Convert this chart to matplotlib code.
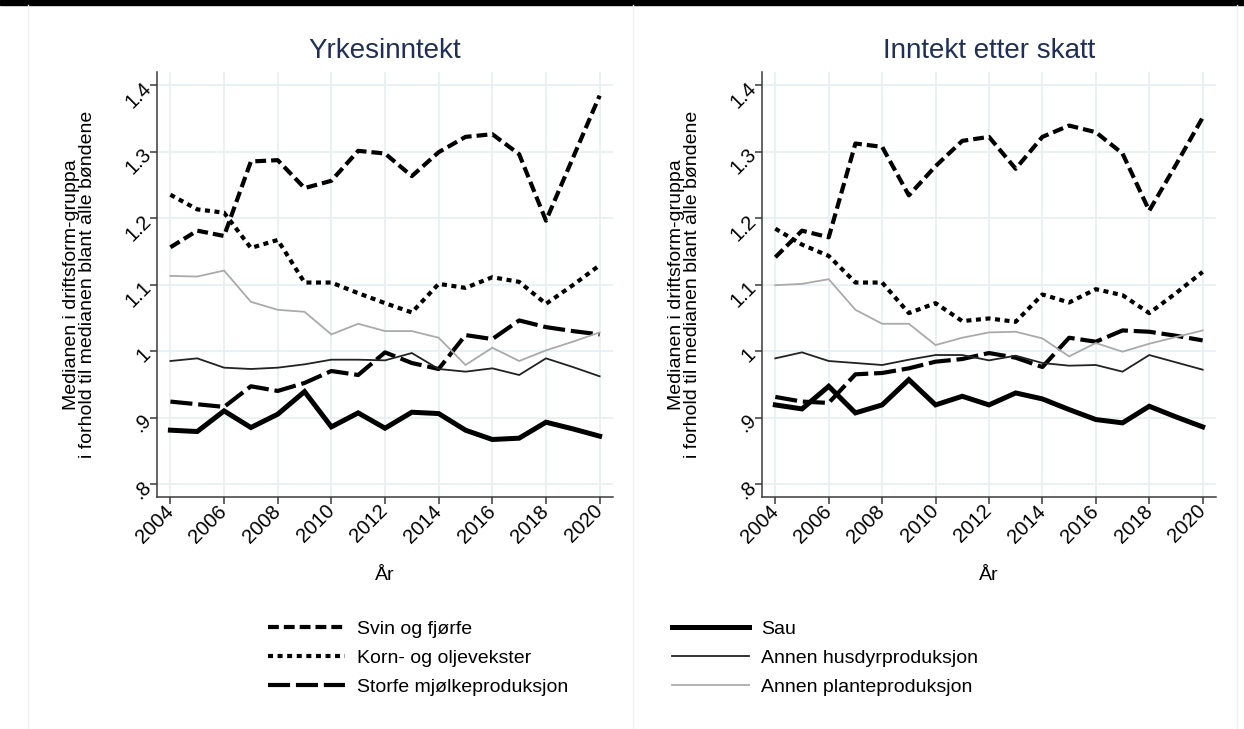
import matplotlib.pyplot as plt
from matplotlib.patches import Rectangle
from matplotlib.lines import Line2D

plt.rcParams['font.family'] = ['Liberation Sans', 'DejaVu Sans']

years = list(range(2004, 2021))
xticks = list(range(2004, 2021, 2))
yticks = [0.8, 0.9, 1.0, 1.1, 1.2, 1.3, 1.4]
ytick_labels = ['.8', '.9', '1', '1.1', '1.2', '1.3', '1.4']

labels = ['Svin og fjørfe', 'Korn- og oljevekster', 'Storfe mjølkeproduksjon',
          'Sau', 'Annen husdyrproduksjon', 'Annen planteproduksjon']

# Yrkesinntekt
yrk_svin = [1.156, 1.181, 1.173, 1.285, 1.287, 1.245, 1.256, 1.301, 1.297, 1.263,
            1.299, 1.322, 1.326, 1.296, 1.196, 1.29, 1.384]
yrk_korn = [1.235, 1.213, 1.208, 1.155, 1.167, 1.103, 1.103, 1.087, 1.072, 1.058,
            1.101, 1.095, 1.111, 1.104, 1.071, 1.099, 1.129]
yrk_storfe = [0.924, 0.920, 0.916, 0.947, 0.940, 0.952, 0.970, 0.964, 0.998, 0.982,
              0.973, 1.024, 1.018, 1.046, 1.036, 1.030, 1.025]
yrk_sau = [0.881, 0.879, 0.910, 0.885, 0.905, 0.939, 0.886, 0.907, 0.884, 0.908,
           0.906, 0.881, 0.867, 0.869, 0.893, 0.883, 0.872]
yrk_husdyr = [0.985, 0.989, 0.975, 0.973, 0.975, 0.980, 0.987, 0.987, 0.986, 0.997,
              0.973, 0.969, 0.974, 0.964, 0.989, 0.976, 0.962]
yrk_plante = [1.113, 1.112, 1.121, 1.074, 1.062, 1.059, 1.025, 1.041, 1.030, 1.030,
              1.020, 0.979, 1.005, 0.985, 1.001, 1.014, 1.028]

# Inntekt etter skatt
skatt_svin = [1.141, 1.181, 1.171, 1.312, 1.307, 1.234, 1.278, 1.316, 1.322, 1.274,
              1.322, 1.339, 1.329, 1.297, 1.211, 1.28, 1.351]
skatt_korn = [1.184, 1.160, 1.143, 1.103, 1.103, 1.057, 1.072, 1.045, 1.049, 1.044,
              1.085, 1.073, 1.093, 1.084, 1.057, 1.087, 1.119]
skatt_storfe = [0.931, 0.924, 0.922, 0.965, 0.967, 0.974, 0.984, 0.988, 0.997, 0.990,
                0.976, 1.020, 1.014, 1.031, 1.029, 1.023, 1.016]
skatt_sau = [0.919, 0.913, 0.947, 0.907, 0.919, 0.957, 0.919, 0.932, 0.919, 0.937,
             0.928, 0.912, 0.897, 0.892, 0.917, 0.901, 0.886]
skatt_husdyr = [0.989, 0.998, 0.985, 0.982, 0.979, 0.987, 0.994, 0.994, 0.986, 0.993,
                0.982, 0.978, 0.979, 0.969, 0.994, 0.983, 0.972]
skatt_plante = [1.099, 1.101, 1.108, 1.062, 1.041, 1.041, 1.009, 1.020, 1.028, 1.029,
                1.019, 0.992, 1.012, 0.999, 1.011, 1.021, 1.031]

styles = {
    'Svin og fjørfe': dict(color='black', lw=3, dashes=(2.6, 1.2)),
    'Korn- og oljevekster': dict(color='black', lw=3, dashes=(1.2, 1.1)),
    'Storfe mjølkeproduksjon': dict(color='black', lw=3, dashes=(5.3, 1.4)),
    'Sau': dict(color='black', lw=3.6),
    'Annen husdyrproduksjon': dict(color='#222222', lw=1.3),
    'Annen planteproduksjon': dict(color='#aaaaaa', lw=1.3),
}


def draw_panel(ax, title, series):
    for label, values in zip(labels, series):
        ax.plot(years, values, label=label, solid_joinstyle='miter', **styles[label])
    ax.set_xlim(2003.5, 2020.5)
    ax.set_ylim(0.7805, 1.4195)
    ax.set_xticks(xticks)
    ax.set_xticklabels([str(y) for y in xticks], rotation=45, ha='right',
                       va='center', rotation_mode='anchor')
    ax.set_yticks(yticks)
    ax.set_yticklabels(ytick_labels, rotation=45, ha='right',
                       va='center', rotation_mode='anchor')
    ax.grid(True, color='#e6eff1', lw=1.2)
    ax.set_axisbelow(True)
    for side in ['top', 'right']:
        ax.spines[side].set_visible(False)
    for side in ['left', 'bottom']:
        ax.spines[side].set_color('#3a3a3a')
        ax.spines[side].set_linewidth(1.1)
    ax.tick_params(labelsize=14.5, length=5, width=1.1, color='#3a3a3a')
    ax.tick_params(axis='y', pad=1.5)
    ax.tick_params(axis='x', pad=3)
    ax.set_title(title, fontsize=20, color='#1e2f5e', pad=10)
    ax.set_ylabel('Medianen i driftsform-gruppa\ni forhold til medianen blant alle bøndene',
                  fontsize=14, linespacing=0.92)
    ax.yaxis.set_label_coords(-0.134, 0.5)
    ax.set_xlabel('År', fontsize=14)
    ax.xaxis.label.set_va('center')
    ax.xaxis.set_label_coords(0.5, -0.1835)


fig = plt.figure(figsize=(12.44, 7.29), dpi=100)
ax1 = fig.add_axes([0.1262, 0.3182, 0.3666, 0.583])
ax2 = fig.add_axes([0.6125, 0.3182, 0.365, 0.583])

draw_panel(ax1, 'Yrkesinntekt',
           [yrk_svin, yrk_korn, yrk_storfe, yrk_sau, yrk_husdyr, yrk_plante])
draw_panel(ax2, 'Inntekt etter skatt',
           [skatt_svin, skatt_korn, skatt_storfe, skatt_sau, skatt_husdyr, skatt_plante])

handles, leg_labels = ax1.get_legend_handles_labels()
fig.legend(handles, leg_labels, ncol=2, loc='upper left',
           bbox_to_anchor=(268 / 1244, 1 - 620 / 729), frameon=False,
           fontsize=14, handlelength=3.97, handletextpad=0.62,
           columnspacing=5.33, labelspacing=0.6, borderpad=0, borderaxespad=0)

# frame decorations
fig.patches.append(Rectangle((0, 1 - 5 / 729), 1, 5 / 729, transform=fig.transFigure,
                             color='black'))
for xp in [28, 633, 1237]:
    fig.add_artist(Line2D([xp / 1244, xp / 1244], [0, 1 - 5 / 729],
                          transform=fig.transFigure, color='#f1f1f1', lw=1))

fig.savefig('out.png', dpi=100)
